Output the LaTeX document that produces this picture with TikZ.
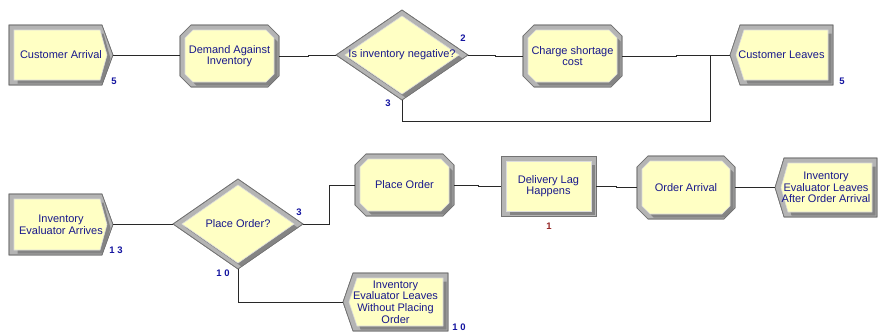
\documentclass[tikz,border=0pt]{standalone}
\usepackage{fontspec}
\setmainfont{Liberation Sans}
\definecolor{fillY}{RGB}{255,255,196}
\definecolor{bandL}{RGB}{180,180,180}
\definecolor{bandD}{RGB}{132,132,132}
\definecolor{edgeG}{RGB}{115,115,115}
\definecolor{coreE}{RGB}{220,220,220}
\definecolor{txt}{RGB}{24,24,140}
\definecolor{num}{RGB}{20,20,160}
\definecolor{numred}{RGB}{150,40,40}
\definecolor{wire}{RGB}{40,40,40}
\tikzset{
  band/.style={fill=bandL, draw=edgeG, line width=0.6pt, line join=miter},
  bandshade/.style={fill=bandD},
  core/.style={fill=fillY, draw=coreE, line width=0.6pt, line join=miter},
  blk/.style={draw=none, inner sep=0pt, align=center, text=txt, font=\fontsize{11}{11.6}\selectfont},
  cnt/.style={font=\fontsize{9.5}{9.5}\selectfont\bfseries, text=num, inner sep=0pt},
  cntred/.style={cnt, text=numred},
  wirel/.style={draw=wire, line width=0.8pt},
}
% bevelled outline: outer path, core path
\newcommand\bevel[2]{%
  \filldraw[band] #1;
  \begin{scope}\clip #1; \fill[bandshade, shift={(3.5,3.5)}] #2; \end{scope}
  \filldraw[band, fill=none] #1;
  \filldraw[core] #2;}
% create module: name L T R B text (tip at R+11)
\newcommand\mkcreate[6]{%
  \bevel{(#2,#3) -- (#4,#3) -- (#4+11,{(#3+#5)/2}) -- (#4,#5) -- (#2,#5) -- cycle}%
        {(#2+5,#3+5) -- (#4-2,#3+5) -- (#4+5,{(#3+#5)/2}) -- (#4-2,#5-5) -- (#2+5,#5-5) -- cycle}
  \node[blk, minimum width={#4+11-#2}, minimum height={#5-#3}] (#1) at ({(#2+#4+11)/2},{(#3+#5)/2}) {#6};}
% process module: name L T R B text
\newcommand\mkproc[6]{%
  \bevel{(#2+11,#3) -- (#4-11,#3) -- (#4,#3+11) -- (#4,#5-11) -- (#4-11,#5) -- (#2+11,#5) -- (#2,#5-11) -- (#2,#3+11) -- cycle}%
        {(#2+13,#3+5) -- (#4-13,#3+5) -- (#4-5,#3+13) -- (#4-5,#5-13) -- (#4-13,#5-5) -- (#2+13,#5-5) -- (#2+5,#5-13) -- (#2+5,#3+13) -- cycle}
  \node[blk, minimum width={#4-#2}, minimum height={#5-#3}] (#1) at ({(#2+#4)/2},{(#3+#5)/2}) {#6};}
% decide module: name cx cy hw hh text
\newcommand\mkdec[6]{%
  \bevel{(#2-#4,#3) -- (#2,#3-#5) -- (#2+#4,#3) -- (#2,#3+#5) -- cycle}%
        {(#2-#4+9,#3) -- (#2,#3-#5+6) -- (#2+#4-9,#3) -- (#2,#3+#5-6) -- cycle}
  \node[blk, minimum width={2*#4}, minimum height={2*#5}] (#1) at (#2,#3) {#6};}
% dispose module: name P L T R B text
\newcommand\mkdisp[7]{%
  \bevel{(#3,#4) -- (#5,#4) -- (#5,#6) -- (#3,#6) -- (#2,{(#4+#6)/2}) -- cycle}%
        {(#3+4,#4+5) -- (#5-5,#4+5) -- (#5-5,#6-5) -- (#3+4,#6-5) -- (#2+6,{(#4+#6)/2}) -- cycle}
  \node[blk, minimum width={#5-#2}, minimum height={#6-#4}] (#1) at ({(#2+#5)/2},{(#4+#6)/2}) {#7};}
% rectangle module: name L T R B text
\newcommand\mkrect[6]{%
  \bevel{(#2,#3) rectangle (#4,#5)}{(#2+5,#3+5) rectangle (#4-5,#5-5)}
  \node[blk, minimum width={#4-#2}, minimum height={#5-#3}] (#1) at ({(#2+#4)/2},{(#3+#5)/2}) {#6};}

\begin{document}
\begin{tikzpicture}[x=1pt, y=-1pt]
\useasboundingbox[fill=white] (0,0) rectangle (884,333);

% top row
\mkcreate{ca}{9}{25}{102}{85}{Customer Arrival}
\mkproc{dem}{180}{25}{279}{87}{Demand Against\\Inventory}
\mkdec{d1}{402}{55}{66}{45}{Is inventory negative?}
\mkproc{chg}{523}{25}{622}{87}{Charge shortage\\cost}
\mkdisp{cl}{730}{740}{25}{833}{85}{Customer Leaves}

% bottom row
\mkcreate{iea}{9}{194}{102}{255}{Inventory\\Evaluator Arrives}
\mkdec{pod}{238}{224}{65}{45}{Place Order?}
\mkproc{po}{355}{154}{454}{216}{Place Order}
\mkrect{dl}{501}{156}{596}{216}{Delivery Lag\\Happens}
\mkproc{oa}{637}{156}{735}{219}{Order Arrival}
\mkdisp{ie2}{775}{784}{158}{877}{217}{Inventory\\Evaluator Leaves\\After Order Arrival}
\mkdisp{ie3}{343}{353}{273}{448}{331}{Inventory\\Evaluator Leaves\\Without Placing\\Order}

% counters
\node[cnt] (n1) at (114,81) {5};
\node[cnt] (n2) at (463,38) {2};
\node[cnt] (n3) at (388,103) {3};
\node[cnt] (n4) at (842,81) {5};
\node[cnt] (n5) at (116,250) {1 3};
\node[cnt] (n6) at (299,212) {3};
\node[cnt] (n7) at (223,273) {1 0};
\node[cntred] (n8) at (549,226) {1};
\node[cnt] (n9) at (459,327) {1 0};

% connectors
\coordinate (j1) at (710,55);
\coordinate (j2) at (710,121);
\draw[wirel] (ca.east) -- (ca.east -| dem.west);
\draw[wirel] (dem.east) -- ++(29,0) |- (d1.west);
\draw[wirel] (d1.east) -- ++(27,0) |- (chg.west);
\draw[wirel] (chg.east) -- ++(54,0) |- (cl.west);
\draw[wirel] (d1.south) |- (j2) -- (j1);

\draw[wirel] (iea.east) -- ++(30,0) |- (pod.west);
\draw[wirel] (pod.east) -- ++(26,0) |- (po.west);
\draw[wirel] (po.east) -- ++(24,0) |- (dl.west);
\draw[wirel] (dl.east) -- ++(20,0) |- (oa.west);
\draw[wirel] (oa.east) -- (ie2.west);
\draw[wirel] (pod.south) |- (ie3.west);
\end{tikzpicture}
\end{document}
